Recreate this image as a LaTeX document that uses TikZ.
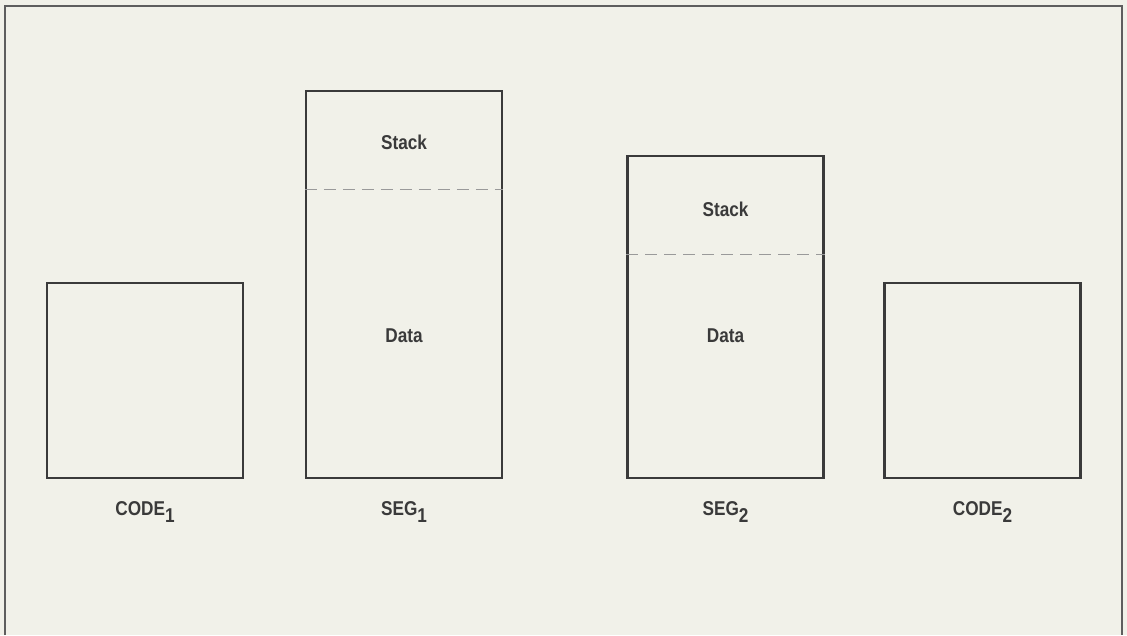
\documentclass[tikz,border=0pt]{standalone}
\usepackage{fontspec}
\setmainfont{Liberation Sans}[FakeStretch=0.86]
\usepackage{tikz}
\usetikzlibrary{positioning}
\definecolor{SegInk}{HTML}{3A3A3A}
\definecolor{SegFrame}{HTML}{5E5E5E}
\definecolor{SegPaper}{HTML}{F1F1E9}
\definecolor{SegDash}{HTML}{9A9A9A}
% lowered index digit after a segment name
\newcommand{\segidx}[1]{\raisebox{-7pt}{#1}}

\begin{document}
\begin{tikzpicture}[x=1pt, y=-1pt,
  segbox/.style={draw=SegInk, line width=2.4pt, minimum width=196pt,
    inner sep=0pt, anchor=south},
  lbl/.style={text=SegInk, inner sep=0pt,
    font=\bfseries\fontsize{20}{23}\selectfont},
  split/.style={draw=SegDash, line width=1pt, dash pattern=on 12pt off 7pt}]
% paper and open frame
\fill[SegPaper] (0,0) rectangle (1127,635);
\useasboundingbox (0,0) rectangle (1127,635);
\draw[SegFrame, line width=2.2pt] (5,635) -- (5,6) -- (1122,6) -- (1122,635);

% the four blocks stand on one base line
\node[segbox, minimum height=195pt] (code1) at (145,479) {};
\node[segbox, minimum height=387pt] (seg1) at (404,479) {};
\node[segbox, minimum height=322pt] (seg2) at (725.5,479) {};
\node[segbox, minimum height=195pt] (code2) at (982.5,479) {};

% stack above data
\draw[split] (seg1.west |- 0,189) -- (seg1.east |- 0,189);
\draw[split] (seg2.west |- 0,254) -- (seg2.east |- 0,254);
\node[lbl] (stack1) at (404,142) {Stack};
\node[lbl] (data1) at (404,336) {Data};
\node[lbl] (stack2) at (725.5,209) {Stack};
\node[lbl] (data2) at (725.5,336) {Data};

% names under the blocks
\node[lbl, below=22pt of code1] (code1name) {CODE\segidx{1}};
\node[lbl, below=22pt of seg1] (seg1name) {SEG\segidx{1}};
\node[lbl, below=22pt of seg2] (seg2name) {SEG\segidx{2}};
\node[lbl, below=22pt of code2] (code2name) {CODE\segidx{2}};
\end{tikzpicture}
\end{document}
